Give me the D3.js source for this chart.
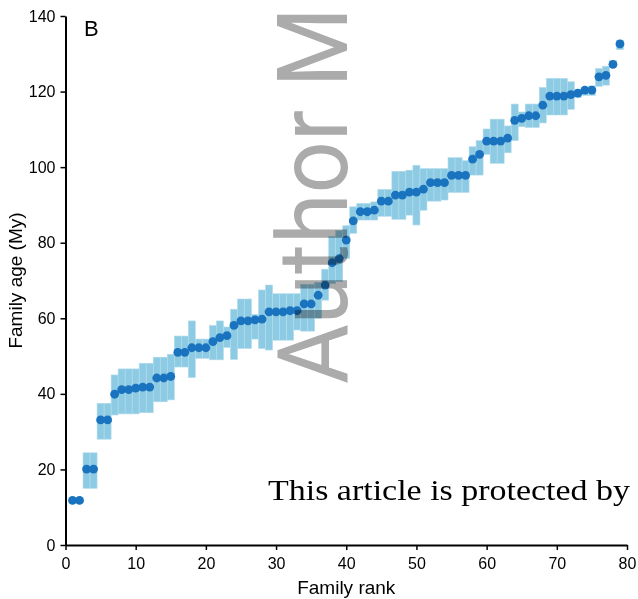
<!DOCTYPE html>
<html>
<head>
<meta charset="utf-8">
<script src="https://cdn.jsdelivr.net/npm/d3@7"></script>
<style>
  body { margin: 0; background: #fff; }
  svg { display: block; }
  .axis path, .axis line { stroke: #000; }
  .axis text { font-family: 'Liberation Sans', Arial, sans-serif; font-size: 16px; fill: #000; }
  .wm { mix-blend-mode: multiply; }
</style>
</head>
<body>
<div id="chart"></div>
<script>
// family rank along x, estimated age (My) with its confidence range
const ranks = d3.range(1, 80)
const ages = [
  11.8, 11.8, 20.1, 20.1, 33.1, 33.1, 39.9, 41.1, 41.1, 41.5,
  41.8, 41.8, 44.2, 44.2, 44.6, 51.0, 51.0, 52.2, 52.2, 52.2,
  53.8, 54.9, 55.4, 58.1, 59.3, 59.3, 59.6, 59.8, 61.7, 61.7,
  61.7, 62.0, 62.0, 63.8, 63.8, 66.1, 68.8, 74.7, 75.8, 80.7,
  85.8, 88.2, 88.2, 88.6, 91.0, 91.0, 92.6, 92.6, 93.4, 93.4,
  94.2, 95.9, 95.9, 95.9, 97.8, 97.8, 97.8, 102.1, 103.4, 106.9,
  106.9, 106.9, 107.7, 112.4, 112.9, 113.6, 113.6, 116.4, 118.8, 118.8,
  118.8, 119.2, 119.6, 120.4, 120.4, 123.9, 124.3, 127.2, 132.6
]
const upper = [
  11.8, 11.8, 24.4, 24.4, 37.5, 37.5, 45.0, 46.6, 46.6, 46.6,
  48.1, 48.1, 49.7, 49.7, 50.5, 55.3, 55.3, 59.3, 54.5, 54.5,
  58.1, 59.3, 57.7, 62.4, 65.1, 65.1, 61.0, 67.5, 68.8, 66.5,
  66.5, 66.5, 66.5, 69.0, 69.0, 69.5, 73.0, 81.7, 83.2, 84.5,
  89.5, 90.4, 90.4, 90.8, 94.1, 94.1, 98.9, 98.9, 99.2, 100.5,
  99.6, 99.6, 99.6, 99.6, 102.5, 102.5, 101.7, 105.4, 107.0, 110.1,
  112.7, 112.7, 110.9, 116.7, 114.6, 116.7, 116.7, 121.1, 123.5, 123.5,
  123.5, 122.6, 120.6, 121.1, 121.5, 126.1, 126.7, 128.2, 133.6
]
const lower = [
  11.8, 11.8, 15.0, 15.0, 28.0, 28.0, 34.4, 34.7, 34.7, 34.7,
  35.0, 35.0, 37.9, 37.9, 38.4, 47.1, 47.1, 44.3, 49.4, 49.4,
  49.0, 49.0, 52.3, 49.1, 52.0, 52.0, 54.5, 52.0, 51.6, 54.2,
  54.2, 54.2, 56.9, 56.6, 56.6, 60.0, 64.8, 69.2, 69.7, 75.8,
  82.5, 86.0, 86.0, 86.0, 87.0, 87.0, 86.2, 86.2, 87.3, 84.7,
  88.6, 91.0, 91.0, 91.3, 93.3, 93.3, 93.3, 97.9, 97.9, 103.4,
  101.0, 101.0, 103.8, 107.0, 110.7, 110.5, 110.5, 111.7, 113.8, 113.8,
  113.8, 115.3, 118.4, 119.0, 119.0, 121.4, 121.7, 126.4, 131.1
]
const xTicks = [0, 10, 20, 30, 40, 50, 60, 70, 80]
const yTicks = [0, 20, 40, 60, 80, 100, 120, 140]

const width = 638
const height = 599
const margin = { top: 16, right: 11, bottom: 54, left: 65.5 }

const rows = ranks.map((r, i) => ({ rank: r, age: ages[i], lo: lower[i], hi: upper[i] }))

const x = d3.scaleLinear().domain([0, 80]).range([margin.left, width - margin.right])
const y = d3.scaleLinear().domain([0, 140]).range([height - margin.bottom, margin.top])

const svg = d3.select('#chart')
  .append('svg')
  .attr('width', width)
  .attr('height', height)

// uncertainty boxes, one rank wide
svg.append('g')
  .selectAll('rect')
  .data(rows.filter(d => d.hi > d.lo))
  .join('rect')
  .attr('x', d => x(d.rank - 0.5))
  .attr('width', d => x(d.rank + 0.5) - x(d.rank - 0.5))
  .attr('y', d => y(d.hi))
  .attr('height', d => y(d.lo) - y(d.hi))
  .attr('fill', '#8dcae3')
  .attr('stroke', '#b3dcec')
  .attr('stroke-width', 0.6)

svg.append('g')
  .selectAll('circle')
  .data(rows)
  .join('circle')
  .attr('cx', d => x(d.rank))
  .attr('cy', d => y(d.age))
  .attr('r', 4.4)
  .attr('fill', '#1a73bf')

const xAxis = svg.append('g')
  .attr('class', 'axis')
  .attr('transform', `translate(0,${y(0)})`)
  .call(d3.axisBottom(x).tickValues(xTicks).tickSize(5).tickSizeOuter(0).tickPadding(8))
xAxis.select('.domain').attr('stroke-width', 2)
xAxis.selectAll('.tick line').attr('stroke-width', 1.5)

const yAxis = svg.append('g')
  .attr('class', 'axis')
  .attr('transform', `translate(${x(0)},0)`)
  .call(d3.axisLeft(y).tickValues(yTicks).tickSize(5).tickSizeOuter(0).tickPadding(5))
yAxis.select('.domain').attr('stroke-width', 2)
yAxis.selectAll('.tick line').attr('stroke-width', 1.5)

svg.append('text')
  .attr('x', (x(0) + x(80)) / 2)
  .attr('y', 594)
  .attr('text-anchor', 'middle')
  .style('font-family', "'Liberation Sans', Arial, sans-serif")
  .style('font-size', '19px')
  .text('Family rank')

svg.append('text')
  .attr('transform', `translate(22,${(y(0) + y(140)) / 2}) rotate(-90)`)
  .attr('text-anchor', 'middle')
  .style('font-family', "'Liberation Sans', Arial, sans-serif")
  .style('font-size', '19px')
  .text('Family age (My)')

svg.append('text')
  .attr('x', 84)
  .attr('y', 36)
  .style('font-family', "'Liberation Sans', Arial, sans-serif")
  .style('font-size', '22px')
  .text('B')

// manuscript watermark
svg.append('text')
  .attr('class', 'wm')
  .attr('transform', 'translate(347,384) rotate(-90)')
  .attr('textLength', 377)
  .attr('lengthAdjust', 'spacingAndGlyphs')
  .style('font-family', "Roboto, 'Open Sans', sans-serif")
  .style('font-weight', 400)
  .style('font-size', '98px')
  .attr('fill', '#ababab')
  .text('Author M')

svg.append('text')
  .attr('x', 268)
  .attr('y', 500)
  .attr('textLength', 362)
  .attr('lengthAdjust', 'spacingAndGlyphs')
  .style('font-family', "'Liberation Serif', 'DejaVu Serif', serif")
  .style('font-size', '29px')
  .attr('fill', '#000')
  .text('This article is protected by')
</script>
</body>
</html>
